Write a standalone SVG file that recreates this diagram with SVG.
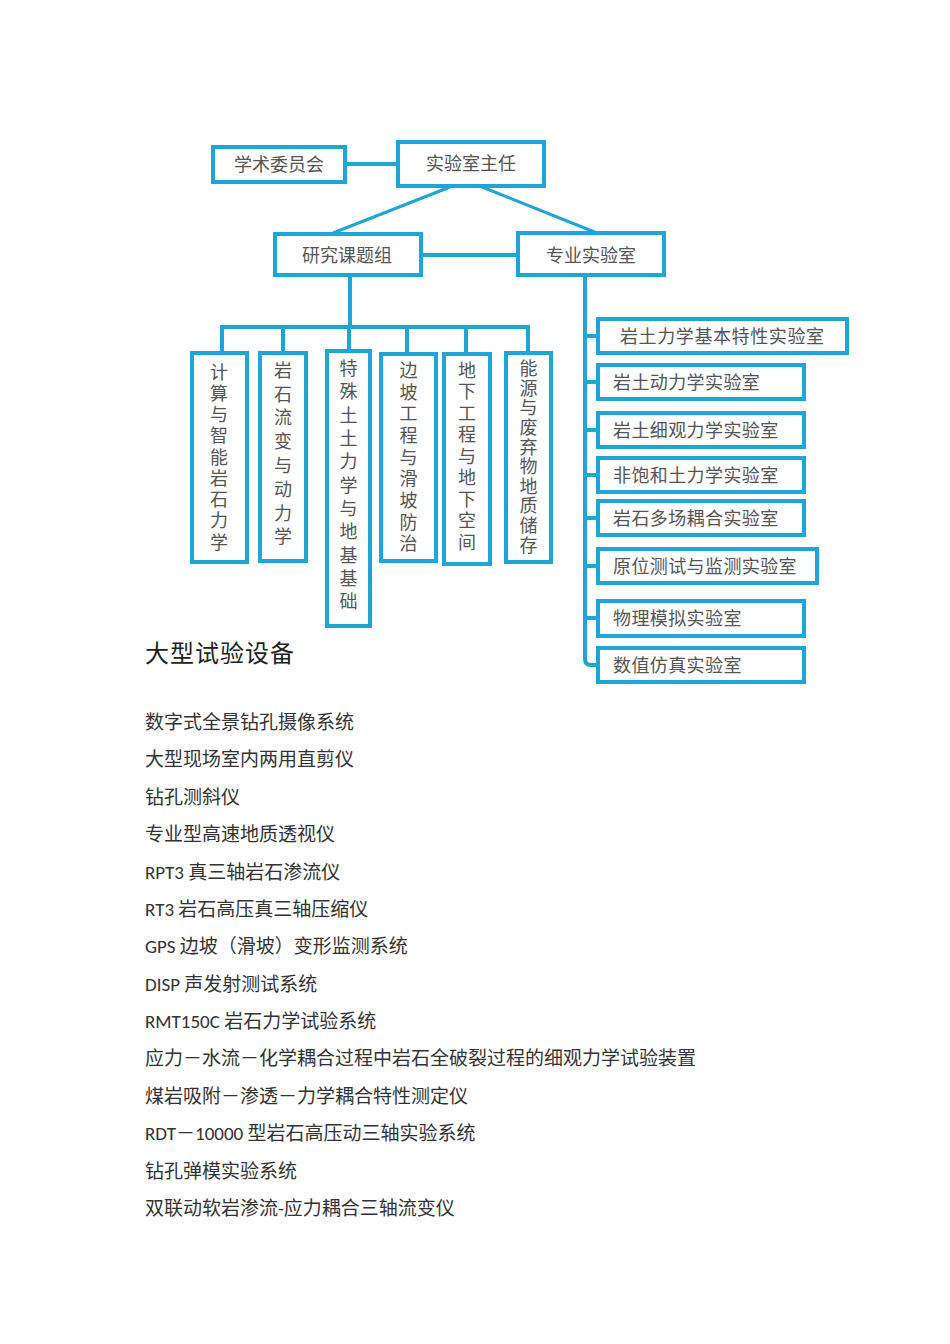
<svg xmlns="http://www.w3.org/2000/svg" width="950" height="1344" viewBox="0 0 950 1344">
<style>
.box{fill:#fff;stroke:#1fa5d8;stroke-width:4}
.ln{fill:none;stroke:#1fa5d8;stroke-width:4}
.t{font-family:"Noto Sans CJK SC","Noto Sans CJK JP",sans-serif;font-size:18px;fill:#555}
.c{text-anchor:middle}
.v{font-family:"Noto Sans CJK SC",sans-serif;font-size:18px;fill:#555;writing-mode:vertical-rl;text-orientation:upright}
.h{font-family:"Noto Sans CJK SC",sans-serif;font-size:24px;fill:#222}
.l{font-family:"Carlito","Liberation Sans","Noto Sans CJK SC",sans-serif;font-size:19px;fill:#333}
</style>
<rect width="950" height="1344" fill="#fff"/>
<g id="connectors">
<line class="ln" x1="347" y1="164" x2="397" y2="164"/>
<line class="ln" x1="450" y1="187" x2="333" y2="233" style="stroke-width:3"/>
<line class="ln" x1="482" y1="187" x2="597" y2="233" style="stroke-width:3"/>
<line class="ln" x1="422" y1="255" x2="517" y2="255"/>
<line class="ln" x1="350" y1="276" x2="350" y2="327"/>
<polyline class="ln" points="222,352 222,327 528,327 528,352"/>
<line class="ln" x1="283" y1="327" x2="283" y2="352"/>
<line class="ln" x1="349" y1="327" x2="349" y2="350"/>
<line class="ln" x1="407" y1="327" x2="407" y2="353"/>
<line class="ln" x1="466" y1="327" x2="466" y2="353"/>
<path class="ln" d="M585,276 V659 Q585,665 591,665 H597"/>
<line class="ln" x1="585" y1="336" x2="597" y2="336"/>
<line class="ln" x1="585" y1="382" x2="597" y2="382"/>
<line class="ln" x1="585" y1="430" x2="597" y2="430"/>
<line class="ln" x1="585" y1="475" x2="597" y2="475"/>
<line class="ln" x1="585" y1="518" x2="597" y2="518"/>
<line class="ln" x1="585" y1="566" x2="597" y2="566"/>
<line class="ln" x1="585" y1="618" x2="597" y2="618"/>
</g>
<g id="n-xueshu"><rect class="box" x="213" y="147" width="132" height="35"/><text class="t c" x="279" y="171">学术委员会</text></g>
<g id="n-zhuren"><rect class="box" x="398" y="142" width="146" height="44"/><text class="t c" x="471" y="170">实验室主任</text></g>
<g id="n-yanjiu"><rect class="box" x="275" y="234" width="146" height="41"/><text class="t c" x="347" y="262">研究课题组</text></g>
<g id="n-zhuanye"><rect class="box" x="518" y="233" width="146" height="42"/><text class="t c" x="591" y="262">专业实验室</text></g>

<g id="n-col1"><rect class="box" x="192" y="353" width="55" height="209"/><text class="v" x="219" y="362.7" letter-spacing="3.25">计算与智能岩石力学</text></g>
<g id="n-col2"><rect class="box" x="260" y="353" width="46" height="208"/><text class="v" x="283" y="361" letter-spacing="5.8">岩石流变与动力学</text></g>
<g id="n-col3"><rect class="box" x="327" y="351" width="43" height="275"/><text class="v" x="348.5" y="359.3" letter-spacing="5.3">特殊土土力学与地基基础</text></g>
<g id="n-col4"><rect class="box" x="381" y="354" width="55" height="207"/><text class="v" x="408.5" y="361" letter-spacing="3.7">边坡工程与滑坡防治</text></g>
<g id="n-col5"><rect class="box" x="444" y="354" width="46" height="210"/><text class="v" x="467" y="361" letter-spacing="3.5">地下工程与地下空间</text></g>
<g id="n-col6"><rect class="box" x="506" y="353" width="45" height="209"/><text class="v" x="528.5" y="359.3" letter-spacing="1.6">能源与废弃物地质储存</text></g>

<g id="n-lab1"><rect class="box" x="598" y="319" width="249" height="34"/><text class="t" x="620" y="343" letter-spacing="0.6">岩土力学基本特性实验室</text></g>
<g id="n-lab2"><rect class="box" x="598" y="365" width="206" height="34"/><text class="t" x="613" y="389" letter-spacing="0.4">岩土动力学实验室</text></g>
<g id="n-lab3"><rect class="box" x="598" y="413" width="206" height="34"/><text class="t" x="613" y="437" letter-spacing="0.4">岩土细观力学实验室</text></g>
<g id="n-lab4"><rect class="box" x="598" y="458" width="206" height="34"/><text class="t" x="613" y="482" letter-spacing="0.4">非饱和土力学实验室</text></g>
<g id="n-lab5"><rect class="box" x="598" y="501" width="206" height="34"/><text class="t" x="613" y="525" letter-spacing="0.4">岩石多场耦合实验室</text></g>
<g id="n-lab6"><rect class="box" x="598" y="549" width="219" height="34"/><text class="t" x="613" y="573" letter-spacing="0.4">原位测试与监测实验室</text></g>
<g id="n-lab7"><rect class="box" x="598" y="601" width="206" height="35"/><text class="t" x="613" y="625" letter-spacing="0.4">物理模拟实验室</text></g>
<g id="n-lab8"><rect class="box" x="598" y="648" width="206" height="34"/><text class="t" x="613" y="672" letter-spacing="0.4">数值仿真实验室</text></g>

<g id="equipment">
<text class="h" x="145" y="662" letter-spacing="1">大型试验设备</text>
<text class="l" x="145" y="729">数字式全景钻孔摄像系统</text>
<text class="l" x="145" y="766">大型现场室内两用直剪仪</text>
<text class="l" x="145" y="804">钻孔测斜仪</text>
<text class="l" x="145" y="841">专业型高速地质透视仪</text>
<text class="l" x="145" y="879">RPT3 真三轴岩石渗流仪</text>
<text class="l" x="145" y="916">RT3 岩石高压真三轴压缩仪</text>
<text class="l" x="145" y="953">GPS 边坡（滑坡）变形监测系统</text>
<text class="l" x="145" y="991">DISP 声发射测试系统</text>
<text class="l" x="145" y="1028">RMT150C 岩石力学试验系统</text>
<text class="l" x="145" y="1065">应力－水流－化学耦合过程中岩石全破裂过程的细观力学试验装置</text>
<text class="l" x="145" y="1103">煤岩吸附－渗透－力学耦合特性测定仪</text>
<text class="l" x="145" y="1140">RDT－10000 型岩石高压动三轴实验系统</text>
<text class="l" x="145" y="1178">钻孔弹模实验系统</text>
<text class="l" x="145" y="1215">双联动软岩渗流-应力耦合三轴流变仪</text>
</g>
</svg>
